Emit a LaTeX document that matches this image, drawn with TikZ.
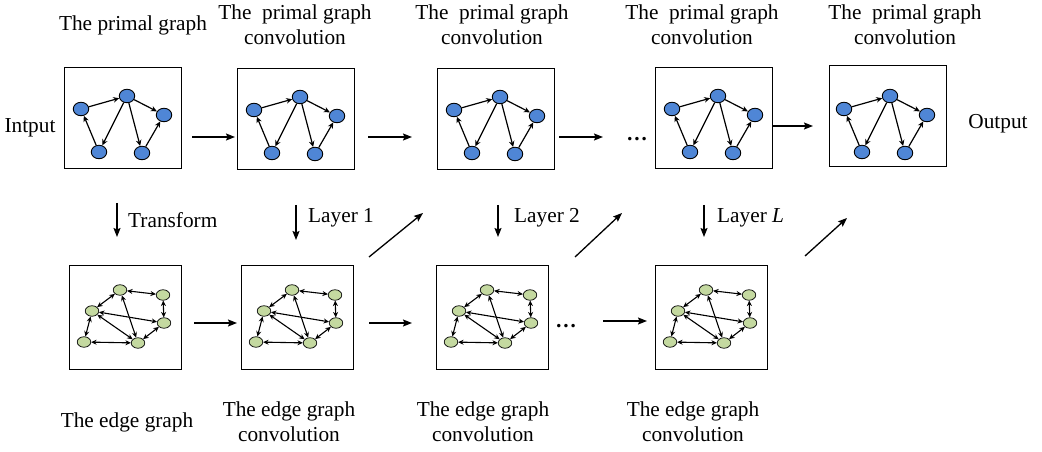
\documentclass[tikz,border=0pt]{standalone}
\usepackage{fontspec}
\setmainfont{Liberation Serif}
\usetikzlibrary{arrows.meta,shapes.geometric}
\definecolor{nodeblue}{HTML}{4F86D6}
\definecolor{nodegreen}{HTML}{C4D9A0}
\tikzset{
  topframe/.style={draw, line width=1.2bp, anchor=north west, inner sep=0pt, minimum width=117bp, minimum height=101bp},
  botframe/.style={draw, line width=1.2bp, anchor=north west, inner sep=0pt, minimum width=112bp, minimum height=104bp},
  pnode/.style={ellipse, draw, fill=nodeblue, line width=0.9bp, minimum width=15.5bp, minimum height=13.5bp, inner sep=0pt},
  enode/.style={ellipse, draw, fill=nodegreen, line width=0.7bp, minimum width=13.5bp, minimum height=10.5bp, inner sep=0pt},
  garr/.style={-{Stealth[length=6bp,width=5.5bp]}, line width=1.2bp},
  gdarr/.style={{Stealth[length=5.5bp,width=5bp]}-{Stealth[length=5.5bp,width=5bp]}, line width=1.1bp},
  flow/.style={-{Stealth[length=9bp,width=7bp,inset=1.5bp]}, line width=1.3bp},
  lab/.style={font=\fontsize{21.3bp}{25bp}\selectfont, inner sep=0pt, align=center},
}
\newcommand\primalG[3]{%
  \begin{scope}[shift={(#2,#3)}]
    \node[pnode] (#1A) at (17,42) {};
    \node[pnode] (#1B) at (63,29) {};
    \node[pnode] (#1C) at (100,48) {};
    \node[pnode] (#1D) at (35,85) {};
    \node[pnode] (#1E) at (78,86) {};
    \draw[garr] (#1A) -- (#1B);
    \draw[garr] (#1B) -- (#1D);
    \draw[garr] (#1B) -- (#1E);
    \draw[garr] (#1B) -- (#1C);
    \draw[garr] (#1D) -- (#1A);
    \draw[garr] (#1E) -- (#1C);
  \end{scope}}
\newcommand\edgeG[3]{%
  \begin{scope}[shift={(#2,#3)}]
    \node[enode] (#1P) at (51,25) {};
    \node[enode] (#1Q) at (94,30) {};
    \node[enode] (#1R) at (23,46) {};
    \node[enode] (#1S) at (95,58) {};
    \node[enode] (#1T) at (15,77) {};
    \node[enode] (#1U) at (69,78) {};
    \draw[gdarr] (#1P) -- (#1Q);
    \draw[gdarr] (#1P) -- (#1R);
    \draw[gdarr] (#1R) -- (#1T);
    \draw[gdarr] (#1T) -- (#1U);
    \draw[gdarr] (#1R) -- (#1S);
    \draw[gdarr] (#1R) -- (#1U);
    \draw[gdarr] (#1P) -- (#1U);
    \draw[gdarr] (#1Q) -- (#1S);
    \draw[gdarr] (#1S) -- (#1U);
  \end{scope}}
\begin{document}
\begin{tikzpicture}[x=1bp,y=-1bp]
\useasboundingbox (0,0) rectangle (1042,452);
% top frames
\node[topframe] (t1) at (64,67) {};
\node[topframe] (t2) at (237,68) {};
\node[topframe] (t3) at (437,68) {};
\node[topframe] (t4) at (655,67) {};
\node[topframe] (t5) at (829,65) {};
\primalG{ta}{64}{67}
\primalG{tb}{237}{68}
\primalG{tc}{437}{68}
\primalG{td}{655}{67}
\primalG{te}{827}{67}
% bottom frames
\node[botframe] (b1) at (69,265) {};
\node[botframe] (b2) at (241,265) {};
\node[botframe] (b3) at (436,265) {};
\node[botframe] (b4) at (655,265) {};
\edgeG{ba}{69}{265}
\edgeG{bb}{241}{265}
\edgeG{bc}{436}{265}
\edgeG{bd}{655}{265}
% labels
\node[lab] (l1) at (133,25) {The primal graph};
\node[lab] (l2) at (295,25) {The\ \ primal graph\\convolution};
\node[lab] (l3) at (492,25) {The\ \ primal graph\\convolution};
\node[lab] (l4) at (702,25) {The\ \ primal graph\\convolution};
\node[lab] (l5) at (905,25) {The\ \ primal graph\\convolution};
\node[lab] (m1) at (127,422) {The edge graph};
\node[lab] (m2) at (289,422) {The edge graph\\convolution};
\node[lab] (m3) at (483,422) {The edge graph\\convolution};
\node[lab] (m4) at (693,422) {The edge graph\\convolution};
\node[lab] (inp) at (30,128) {Intput};
\node[lab] (outp) at (998,124) {Output};
\node[lab] (dt) at (637,139) {\textbf{…}};
\node[lab] (db) at (566,326) {\textbf{…}};
\node[lab,anchor=west] (ltr) at (128,220) {Transform};
\node[lab,anchor=west] (ly1) at (308,218) {Layer 1};
\node[lab,anchor=west] (ly2) at (514,218) {Layer 2};
\node[lab,anchor=west] (lyL) at (717,218) {Layer \textit{L}};
% arrow end points
\coordinate (h1s) at (192,137); \coordinate (h1e) at (235,137);
\coordinate (h2s) at (368,137); \coordinate (h2e) at (412,137);
\coordinate (h3s) at (559,137); \coordinate (h3e) at (603,137);
\coordinate (h4s) at (772,126); \coordinate (h4e) at (813,126);
\coordinate (g1s) at (194,323); \coordinate (g1e) at (237,323);
\coordinate (g2s) at (369,323); \coordinate (g2e) at (412,323);
\coordinate (g3s) at (603,321); \coordinate (g3e) at (647,321);
\coordinate (v1s) at (117,203); \coordinate (v1e) at (117,237);
\coordinate (v2s) at (296,205); \coordinate (v2e) at (296,240);
\coordinate (v3s) at (498,205); \coordinate (v3e) at (498,237);
\coordinate (v4s) at (704,205); \coordinate (v4e) at (704,237);
\coordinate (d1s) at (369,257); \coordinate (d1e) at (423,213);
\coordinate (d2s) at (575,257); \coordinate (d2e) at (622,213);
\coordinate (d3s) at (805,256); \coordinate (d3e) at (847,218);
\foreach \a in {h1,h2,h3,h4,g1,g2,g3,d1,d2,d3}
  \draw[flow] (\a s) -- (\a e);
\foreach \a in {v1,v2,v3,v4}
  \draw[flow, line width=1.1bp] (\a s) -- (\a e);
\end{tikzpicture}
\end{document}
